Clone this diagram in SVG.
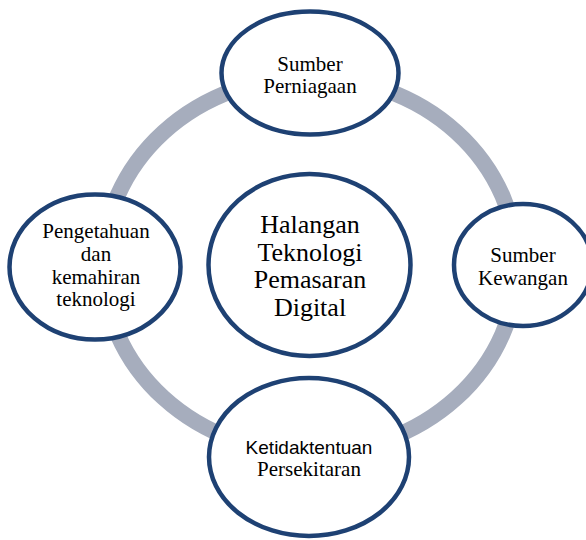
<svg xmlns="http://www.w3.org/2000/svg" width="586" height="540" viewBox="0 0 586 540">
  <style>
    .node { fill: #ffffff; stroke: #1e4173; stroke-width: 4.5; }
    .ring { fill: none; stroke: #a6adbd; stroke-width: 16; }
    .t { font-family: "Liberation Serif", "Times New Roman", serif; font-size: 21px; fill: #000000; text-anchor: middle; }
    .big { font-size: 26px; }
    .sans { font-family: "Liberation Sans", Arial, sans-serif; font-size: 19px; }
  </style>
  <rect width="586" height="540" fill="#ffffff"/>
  <g id="connectors">
    <ellipse class="ring" cx="310" cy="265" rx="207" ry="188"/>
  </g>
  <g id="node-top">
    <ellipse class="node" cx="310" cy="73" rx="88.5" ry="61.5"/>
    <text class="t" x="310" y="70.5">Sumber</text>
    <text class="t" x="310" y="93">Perniagaan</text>
  </g>
  <g id="node-center">
    <ellipse class="node" cx="309.5" cy="265" rx="101" ry="91"/>
    <text class="t big" x="310" y="233">Halangan</text>
    <text class="t big" x="310" y="260.5">Teknologi</text>
    <text class="t big" x="310" y="288">Pemasaran</text>
    <text class="t big" x="310" y="316">Digital</text>
  </g>
  <g id="node-left">
    <ellipse class="node" cx="95" cy="267" rx="85.5" ry="72.5"/>
    <text class="t" x="96" y="238">Pengetahuan</text>
    <text class="t" x="96" y="261">dan</text>
    <text class="t" x="96" y="283.5">kemahiran</text>
    <text class="t" x="96" y="306">teknologi</text>
  </g>
  <g id="node-right">
    <ellipse class="node" cx="523" cy="265" rx="69" ry="61"/>
    <text class="t" x="523" y="262">Sumber</text>
    <text class="t" x="523" y="284.5">Kewangan</text>
  </g>
  <g id="node-bottom">
    <ellipse class="node" cx="309" cy="457" rx="100" ry="79"/>
    <text class="t sans" x="309" y="453.5">Ketidaktentuan</text>
    <text class="t" x="309" y="476">Persekitaran</text>
  </g>
</svg>
